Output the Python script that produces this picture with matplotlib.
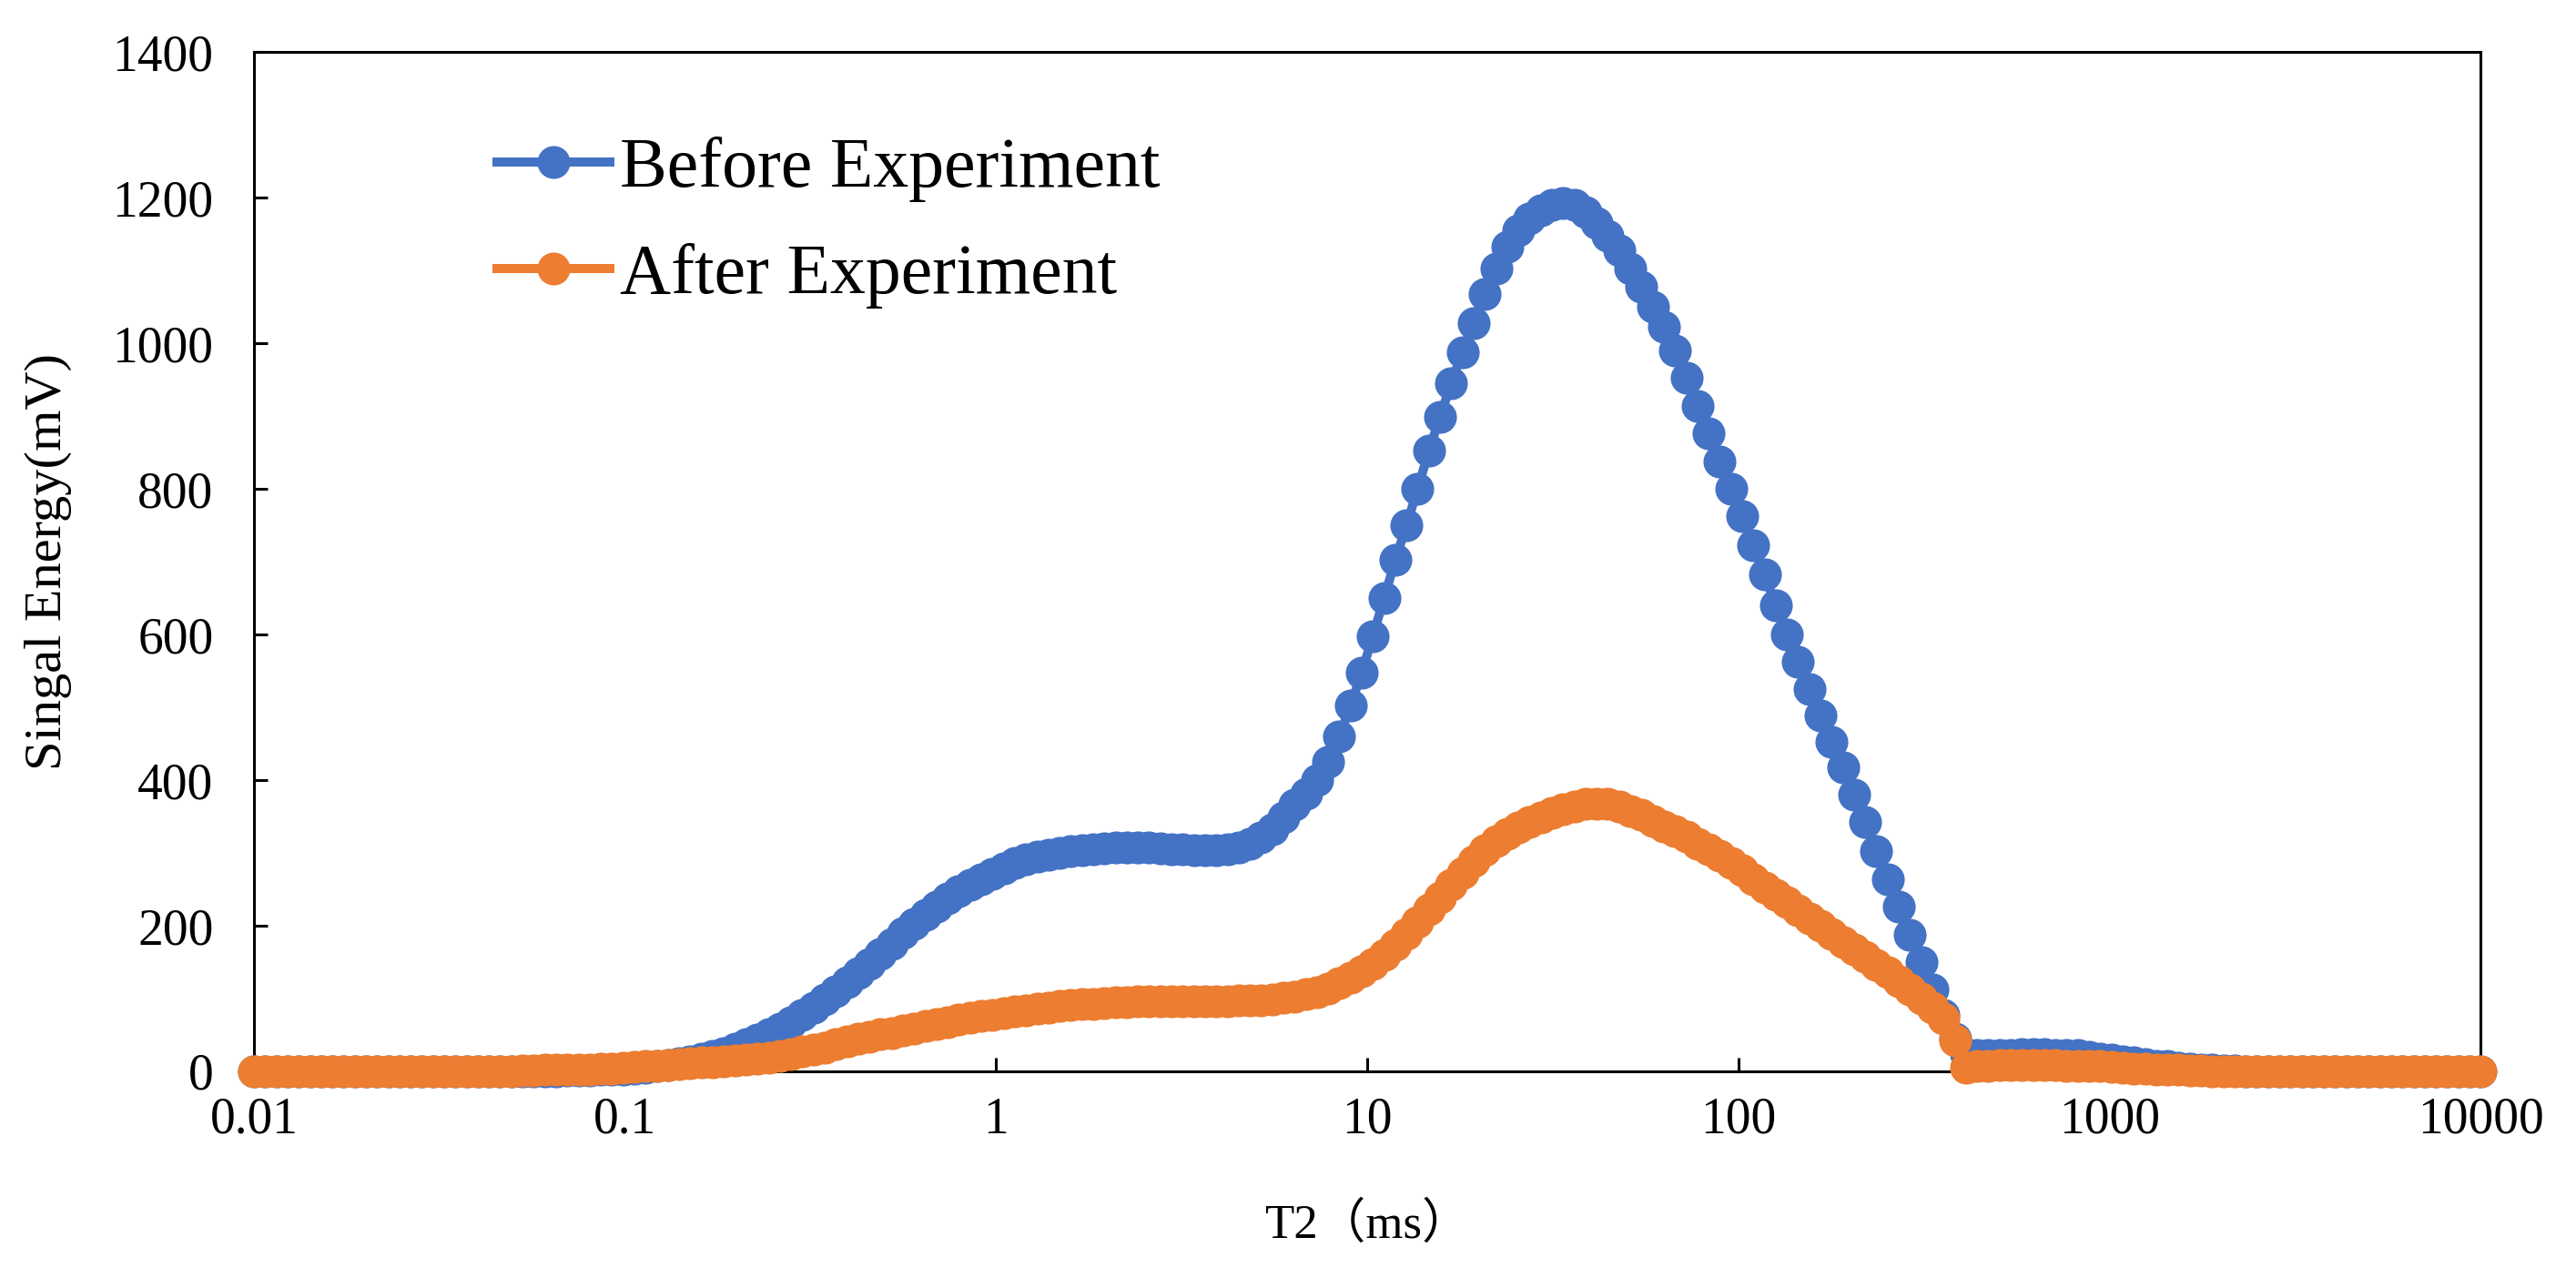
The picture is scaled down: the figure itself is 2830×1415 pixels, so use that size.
import numpy as np
import matplotlib
matplotlib.use("Agg")
import matplotlib.pyplot as plt
from matplotlib.ticker import FixedLocator, FixedFormatter, NullLocator

plt.rcParams['font.family'] = ['Liberation Serif', 'Noto Sans CJK SC', 'DejaVu Sans']

# T2 relaxation-time grid of the NMR inversion (200 log-spaced bins, 0.01-10000 ms)
t2 = np.logspace(-2, 4, 200)

before = [
    0, 0, 0, 0, 0, 0, 0, 0, 0, 0,
    0, 0, 0, 0, 0, 0, 0, 0, 0, 0,
    0, 0, 0, 0, 0, 0, 0, 0, 1, 1,
    1, 2, 2, 3, 4, 5, 7, 9, 11, 14,
    17, 21, 25, 31, 38, 44, 51, 59, 67, 77,
    88, 99, 110, 122, 135, 148, 161, 175, 190, 203,
    215, 226, 237, 247, 256, 264, 271, 279, 286, 291,
    295, 298, 300, 302, 304, 305, 306, 307, 307, 307,
    307, 306, 305, 305, 304, 304, 304, 305, 307, 312,
    321, 333, 349, 366, 381, 400, 425, 460, 502, 548,
    598, 650, 702, 750, 800, 852, 899, 945, 988, 1028,
    1068, 1102, 1132, 1155, 1171, 1182, 1190, 1193, 1190, 1180,
    1165, 1148, 1128, 1103, 1077, 1050, 1022, 990, 952, 914,
    876, 838, 800, 762, 722, 682, 640, 600, 562, 525,
    489, 453, 417, 380, 342, 303, 264, 226, 188, 150,
    112, 78, 45, 24, 22, 22, 23, 23, 24, 24,
    24, 23, 23, 22, 20, 18, 16, 14, 12, 10,
    8, 7, 5, 4, 3, 2, 1, 1, 0, 0,
    0, 0, 0, 0, 0, 0, 0, 0, 0, 0,
    0, 0, 0, 0, 0, 0, 0, 0, 0, 0,
]

after = [
    0, 0, 0, 0, 0, 0, 0, 0, 0, 0,
    0, 0, 0, 0, 0, 0, 0, 0, 0, 0,
    0, 0, 0, 0, 1, 1, 2, 2, 2, 3,
    3, 4, 4, 5, 6, 7, 8, 9, 10, 11,
    12, 13, 14, 15, 16, 17, 19, 21, 24, 27,
    30, 33, 37, 41, 45, 48, 51, 53, 56, 59,
    62, 65, 68, 71, 74, 76, 78, 80, 82, 84,
    86, 88, 90, 91, 92, 93, 94, 95, 95, 96,
    96, 96, 96, 96, 96, 96, 96, 96, 97, 97,
    98, 99, 101, 103, 106, 109, 114, 121, 129, 138,
    148, 160, 174, 189, 205, 222, 239, 256, 273, 289,
    304, 316, 326, 335, 342, 349, 355, 360, 364, 367,
    368, 367, 364, 358, 352, 344, 336, 330, 322, 313,
    305, 296, 286, 276, 264, 253, 242, 232, 221, 210,
    200, 189, 178, 168, 157, 146, 136, 124, 112, 100,
    87, 73, 42, 5, 7, 8, 9, 9, 9, 9,
    9, 9, 8, 8, 7, 7, 6, 5, 4, 4,
    3, 2, 2, 1, 1, 0, 0, 0, 0, 0,
    0, 0, 0, 0, 0, 0, 0, 0, 0, 0,
    0, 0, 0, 0, 0, 0, 0, 0, 0, 0,
]

series_labels = ['Before Experiment', 'After Experiment']
series_colors = ['#4472C4', '#ED7D31']
xtick_values = [0.01, 0.1, 1, 10, 100, 1000, 10000]
xtick_labels = ['0.01', '0.1', '1', '10', '100', '1000', '10000']
ytick_values = [0, 200, 400, 600, 800, 1000, 1200, 1400]
xlabel = 'T2（ms）'
ylabel = 'Singal Energy(mV)'

fig = plt.figure(figsize=(14.15, 7.075), dpi=200)
ax = fig.add_axes([0.0986, 0.1682, 0.8644, 0.7915])

handles = []
for ys, lab, col, z in zip([before, after], series_labels, series_colors, [3, 4]):
    h, = ax.plot(t2, ys, color=col, lw=3.6, marker='o', ms=12, mec=col, mfc=col,
                 clip_on=False, zorder=z, label=lab)
    handles.append(h)

ax.set_xscale('log')
ax.set_xlim(0.01, 10000)
ax.set_ylim(0, 1400)
ax.xaxis.set_major_locator(FixedLocator(xtick_values))
ax.xaxis.set_major_formatter(FixedFormatter(xtick_labels))
ax.xaxis.set_minor_locator(NullLocator())
ax.set_yticks(ytick_values)
ax.set_yticklabels([str(v) for v in ytick_values])

ax.tick_params(axis='both', direction='in', length=5.5, width=1.1, labelsize=20, colors='black')
ax.tick_params(axis='y', pad=16)
ax.tick_params(axis='x', pad=10)
for sp in ax.spines.values():
    sp.set_linewidth(1.1)
    sp.set_color('black')

ax.set_xlabel(xlabel, fontsize=19, labelpad=23)
ax.set_ylabel(ylabel, fontsize=21, labelpad=16)

ax.legend(handles, series_labels, loc='upper left', bbox_to_anchor=(0.109, 0.917),
          frameon=False, fontsize=28, handlelength=1.6, handletextpad=0.14,
          labelspacing=0.58, borderpad=0, borderaxespad=0, numpoints=1)

fig.savefig('out.png', dpi=200, facecolor='white')
